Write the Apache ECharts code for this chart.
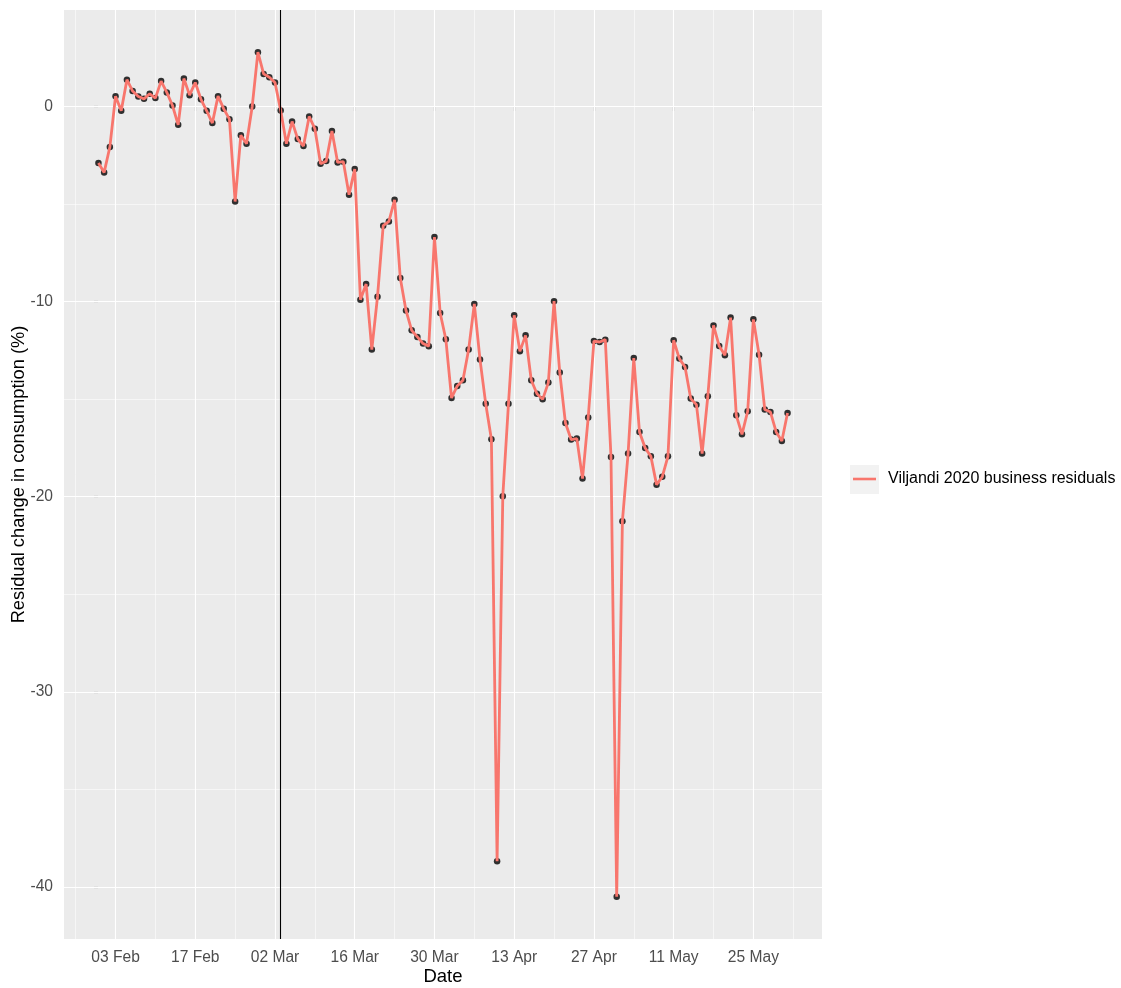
<!DOCTYPE html>
<html>
<head>
<meta charset="utf-8">
<script src="https://cdn.jsdelivr.net/npm/echarts@6/dist/echarts.min.js"></script>
<style>
html,body{margin:0;padding:0;background:#fff;}
#chart{width:1121px;height:988px;}
</style>
</head>
<body>
<div id="chart"></div>
<script>
// ---- data ----
const startDate = '2020-01-31';           // first day of the series (day index 0)
const residuals = [
  -2.90, -3.38, -2.08, 0.53, -0.22, 1.37, 0.79, 0.51, 0.39, 0.65,
  0.43, 1.30, 0.72, 0.05, -0.94, 1.43, 0.58, 1.23, 0.37, -0.22,
  -0.85, 0.53, -0.12, -0.65, -4.87, -1.47, -1.91, 0.00, 2.78, 1.67,
  1.50, 1.23, -0.20, -1.91, -0.77, -1.67, -2.03, -0.51, -1.14, -2.94,
  -2.80, -1.26, -2.87, -2.83, -4.52, -3.21, -9.90, -9.10, -12.46, -9.75,
  -6.11, -5.89, -4.78, -8.79, -10.45, -11.47, -11.81, -12.15, -12.29, -6.69,
  -10.58, -11.93, -14.94, -14.32, -14.03, -12.46, -10.12, -12.97, -15.23, -17.05,
  -38.68, -19.97, -15.23, -10.70, -12.55, -11.73, -14.03, -14.72, -15.01, -14.15,
  -9.98, -13.63, -16.22, -17.07, -17.02, -19.07, -15.94, -12.02, -12.07, -11.95,
  -17.96, -40.50, -21.25, -17.79, -12.89, -16.68, -17.50, -17.93, -19.38, -18.98,
  -17.93, -11.98, -12.92, -13.35, -14.97, -15.28, -17.79, -14.85, -11.22, -12.28,
  -12.75, -10.82, -15.83, -16.80, -15.62, -10.91, -12.72, -15.53, -15.66, -16.68,
  -17.14, -15.71
];
const seriesName = 'Viljandi 2020 business residuals';
// x tick positions (day index from startDate) and their labels
const xTickDays   = [3, 17, 31, 45, 59, 73, 87, 101, 115];
const xTickLabels = ['03 Feb', '17 Feb', '02 Mar', '16 Mar', '30 Mar', '13 Apr', '27 Apr', '11 May', '25 May'];
const xMinorDays  = [-4, 10, 24, 38, 52, 66, 80, 94, 108, 122];
const yTicks      = [-40, -30, -20, -10, 0];
const yTickLabels = ['-40', '-30', '-20', '-10', '0'];
const yMinor      = [-35, -25, -15, -5];
const eventDay    = 32;   // 03 Mar vertical line

// ---- build ----
const dayMs = 86400000;
const t0 = new Date(startDate + 'T00:00:00Z').getTime();
const dates = residuals.map((_, i) => new Date(t0 + i * dayMs).toISOString().slice(0, 10));
const points = residuals.map((v, i) => [i, v]);

const n = residuals.length;
const xExp = (n - 1) * 0.05;
const yMaxD = Math.max(...residuals), yMinD = Math.min(...residuals);
const yExp = (yMaxD - yMinD) * 0.05;

const FONT = "'Liberation Sans', Arial, sans-serif";
const grid = [];
xTickDays.forEach(v => grid.push({ xAxis: v, lineStyle: { width: 1.1 } }));
xMinorDays.forEach(v => grid.push({ xAxis: v, lineStyle: { width: 0.55 } }));
yTicks.forEach(v => grid.push({ yAxis: v, lineStyle: { width: 1.1 } }));
yMinor.forEach(v => grid.push({ yAxis: v, lineStyle: { width: 0.55 } }));

const chart = echarts.init(document.getElementById('chart'), null, { renderer: 'canvas' });
chart.setOption({
  animation: false,
  backgroundColor: '#ffffff',
  textStyle: { fontFamily: FONT },
  grid: {
    left: 64, right: 299, top: 10, bottom: 49,
    show: true, backgroundColor: '#EBEBEB', borderWidth: 0,
    containLabel: false, outerBoundsMode: 'none'
  },
  xAxis: {
    type: 'value',
    min: -xExp, max: n - 1 + xExp,
    name: 'Date', nameLocation: 'middle', nameGap: 28, nameMoveOverlap: false,
    nameTextStyle: { fontSize: 18.5, color: '#000', fontFamily: FONT },
    axisLine: { show: false },
    axisTick: { show: true, customValues: xTickDays, length: 5, lineStyle: { color: '#333333', width: 1.1 } },
    axisLabel: {
      show: true, customValues: xTickDays, margin: 11,
      fontSize: 15.6, color: '#4D4D4D', fontFamily: FONT,
      formatter: v => { const k = xTickDays.indexOf(Math.round(v)); return k >= 0 ? xTickLabels[k] : ''; }
    },
    splitLine: { show: false }
  },
  yAxis: {
    type: 'value',
    min: yMinD - yExp, max: yMaxD + yExp,
    name: 'Residual change in consumption (%)', nameLocation: 'middle', nameGap: 36, nameMoveOverlap: false,
    nameTextStyle: { fontSize: 18.3, color: '#000', fontFamily: FONT },
    axisLine: { show: false },
    axisTick: { show: true, customValues: yTicks, length: 5, lineStyle: { color: '#333333', width: 1.1 } },
    axisLabel: {
      show: true, customValues: yTicks, margin: 11,
      fontSize: 15.6, color: '#4D4D4D', fontFamily: FONT,
      formatter: v => { const k = yTicks.indexOf(Math.round(v)); return k >= 0 ? yTickLabels[k] : ''; }
    },
    splitLine: { show: false }
  },
  legend: {
    data: [{ name: seriesName, icon: 'rect', itemStyle: { color: '#F8766D' } }],
    left: 853, top: 471, padding: 0,
    itemWidth: 23, itemHeight: 2.6,
    selectedMode: false,
    textStyle: { fontSize: 16, color: '#000', fontFamily: FONT, padding: [0, 0, 0, 7] }
  },
  graphic: [{
    type: 'rect', z: 0,
    shape: { x: 850, y: 465, width: 29, height: 29 },
    style: { fill: '#F2F2F2' }
  }],
  tooltip: { show: false },
  series: [
    {
      name: '_grid', type: 'line', data: points, z: 1,
      symbol: 'none', lineStyle: { opacity: 0 }, silent: true,
      markLine: {
        silent: true, z: 1, symbol: ['none', 'none'], label: { show: false },
        lineStyle: { color: '#FFFFFF', type: 'solid' },
        emphasis: { disabled: true },
        data: grid
      }
    },
    {
      name: '_points', type: 'scatter', data: points, z: 3,
      symbol: 'circle', symbolSize: 6.5, silent: true,
      itemStyle: { color: '#000000' }
    },
    {
      name: seriesName, type: 'line', data: points, z: 4,
      symbol: 'none', showSymbol: false,
      lineStyle: { color: '#F8766D', width: 2.8 },
      itemStyle: { color: '#F8766D' },
      markLine: {
        silent: true, z: 6, symbol: ['none', 'none'], label: { show: false },
        lineStyle: { color: '#000000', width: 1.1, type: 'solid' },
        emphasis: { disabled: true },
        data: [{ xAxis: eventDay }]
      }
    }
  ]
});
</script>
</body>
</html>
